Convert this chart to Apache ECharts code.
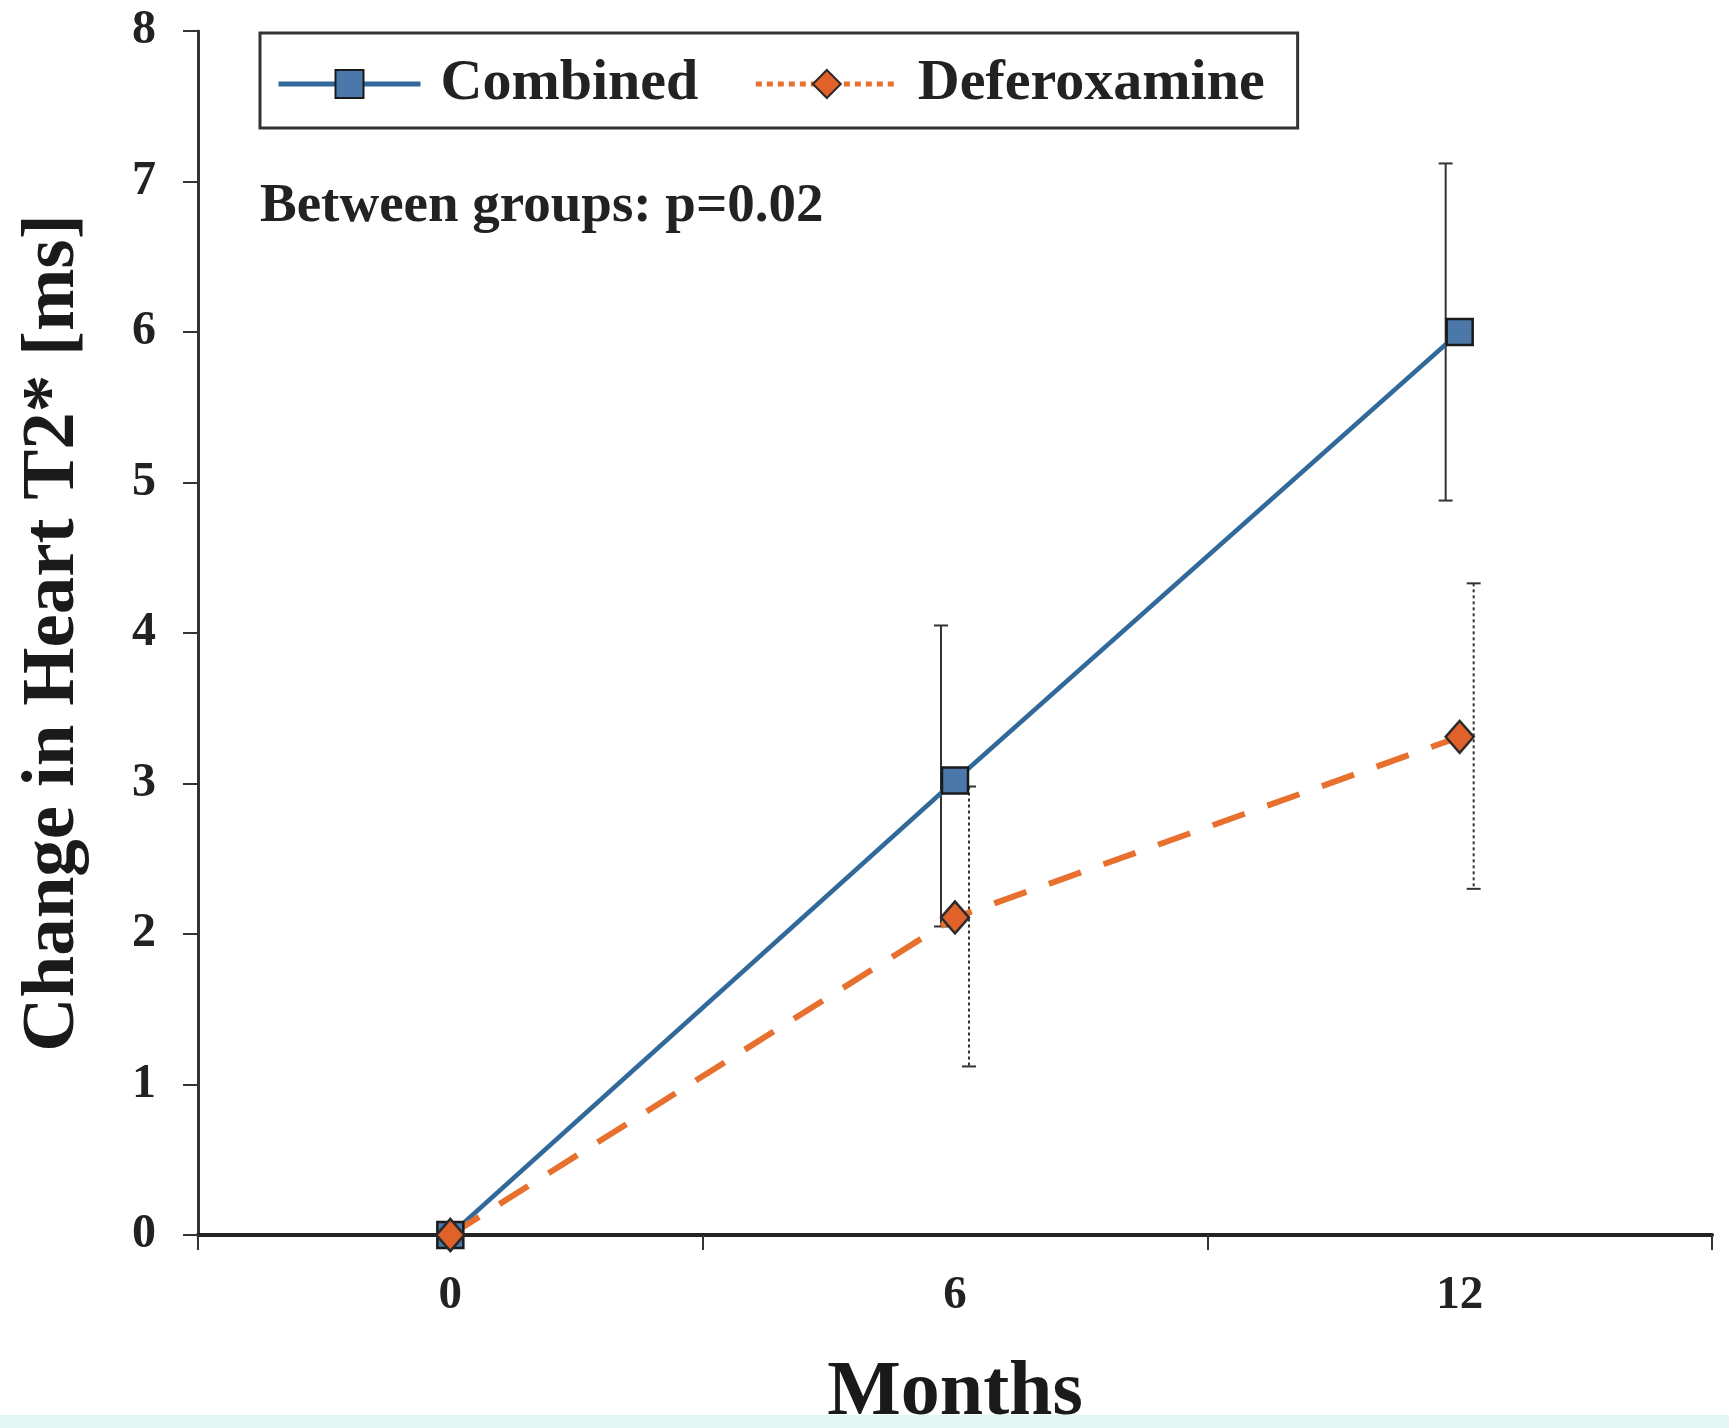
<!DOCTYPE html>
<html>
<head>
<meta charset="utf-8">
<script src="https://cdn.jsdelivr.net/npm/echarts@6/dist/echarts.min.js"></script>
<style>
  html, body { margin: 0; padding: 0; background: #fff; }
  #chart { width: 1729px; height: 1428px; }
</style>
</head>
<body>
<div id="chart"></div>
<script>
const months = ['0', '6', '12']

const combined = [0, 3.02, 6.0]
const combinedLow = [null, 2.05, 4.88]
const combinedHigh = [null, 4.05, 7.12]

const deferoxamine = [0, 2.11, 3.31]
const deferoxamineLow = [null, 1.12, 2.3]
const deferoxamineHigh = [null, 2.98, 4.33]

const font = '"Liberation Serif", "Times New Roman", serif'

// error bars drawn beside the markers, combined left, deferoxamine right
const errorBars = (shift, dashed) => (params, api) => {
  if (api.value(1) == null) return
  const top = api.coord([api.value(0), api.value(2)])
  const bot = api.coord([api.value(0), api.value(1)])
  const x = top[0] + shift
  const style = { stroke: '#333', lineWidth: 2, lineDash: dashed ? [3, 3] : null }
  return {
    type: 'group',
    children: [
      { type: 'line', shape: { x1: x, y1: top[1], x2: x, y2: bot[1] }, style },
      { type: 'line', shape: { x1: x - 7, y1: top[1], x2: x + 7, y2: top[1] }, style: { stroke: '#333', lineWidth: 2 } },
      { type: 'line', shape: { x1: x - 7, y1: bot[1], x2: x + 7, y2: bot[1] }, style: { stroke: '#333', lineWidth: 2 } }
    ]
  }
}

const chart = echarts.init(document.getElementById('chart'))

chart.setOption({
  backgroundColor: '#fff',
  animation: false,
  grid: { left: 198, right: 17, top: 31, bottom: 193, outerBoundsMode: 'none', containLabel: false },
  title: {
    text: 'Between groups: p=0.02',
    left: 260,
    top: 179,
    padding: 0,
    textStyle: { fontFamily: font, fontWeight: 'bold', fontSize: 55, color: '#222' }
  },
  legend: {
    left: 260,
    top: 33,
    itemWidth: 142,
    itemHeight: 35,
    itemGap: 55,
    padding: [22, 33, 15, 16],
    borderColor: '#333',
    borderWidth: 3,
    backgroundColor: '#fff',
    textStyle: { fontFamily: font, fontWeight: 'bold', fontSize: 58, color: '#222', padding: [6, 0, 0, 15] },
    data: [
      { name: 'Combined', lineStyle: { width: 5 } },
      { name: 'Deferoxamine', lineStyle: { width: 5, type: [6, 5] } }
    ]
  },
  xAxis: {
    type: 'category',
    data: months,
    boundaryGap: true,
    name: 'Months',
    nameLocation: 'middle',
    nameGap: 120,
    nameTextStyle: { fontFamily: font, fontWeight: 'bold', fontSize: 78, color: '#1a1a1a' },
    axisLine: { lineStyle: { color: '#222', width: 4 } },
    axisTick: { show: true, length: 15, lineStyle: { color: '#333', width: 2 } },
    axisLabel: { margin: 37, fontFamily: font, fontWeight: 'bold', fontSize: 47, color: '#222' },
    splitLine: { show: false }
  },
  yAxis: {
    type: 'value',
    min: 0,
    max: 8,
    interval: 1,
    name: 'Change in Heart T2* [ms]',
    nameLocation: 'middle',
    nameGap: 107,
    nameTextStyle: { fontFamily: font, fontWeight: 'bold', fontSize: 75, color: '#1a1a1a' },
    axisLine: { show: true, lineStyle: { color: '#333', width: 3 } },
    axisTick: { show: true, length: 15, lineStyle: { color: '#333', width: 2 } },
    axisLabel: { margin: 42, fontFamily: font, fontWeight: 'bold', fontSize: 48, color: '#222' },
    splitLine: { show: false }
  },
  series: [
    {
      name: 'Combined',
      type: 'line',
      data: combined,
      z: 3,
      symbol: 'rect',
      symbolSize: 26,
      lineStyle: { color: '#31699A', width: 4.5 },
      itemStyle: { color: '#4B78A8', borderColor: '#1a1a1a', borderWidth: 2.5 }
    },
    {
      name: 'Deferoxamine',
      type: 'line',
      data: deferoxamine,
      z: 3,
      symbol: 'diamond',
      symbolSize: [28, 32],
      lineStyle: { color: '#E8702E', width: 6, type: [34, 24] },
      itemStyle: { color: '#E0622A', borderColor: '#2a2a2a', borderWidth: 2.5 }
    },
    {
      type: 'custom',
      z: 2,
      silent: true,
      renderItem: errorBars(-14, false),
      data: months.map((m, i) => [i, combinedLow[i], combinedHigh[i]])
    },
    {
      type: 'custom',
      z: 2,
      silent: true,
      renderItem: errorBars(14, true),
      data: months.map((m, i) => [i, deferoxamineLow[i], deferoxamineHigh[i]])
    }
  ],
  graphic: [
    { type: 'rect', left: 0, top: 1415, shape: { width: 1729, height: 13 }, style: { fill: '#E2F6F4' }, silent: true }
  ]
})
</script>
</body>
</html>
